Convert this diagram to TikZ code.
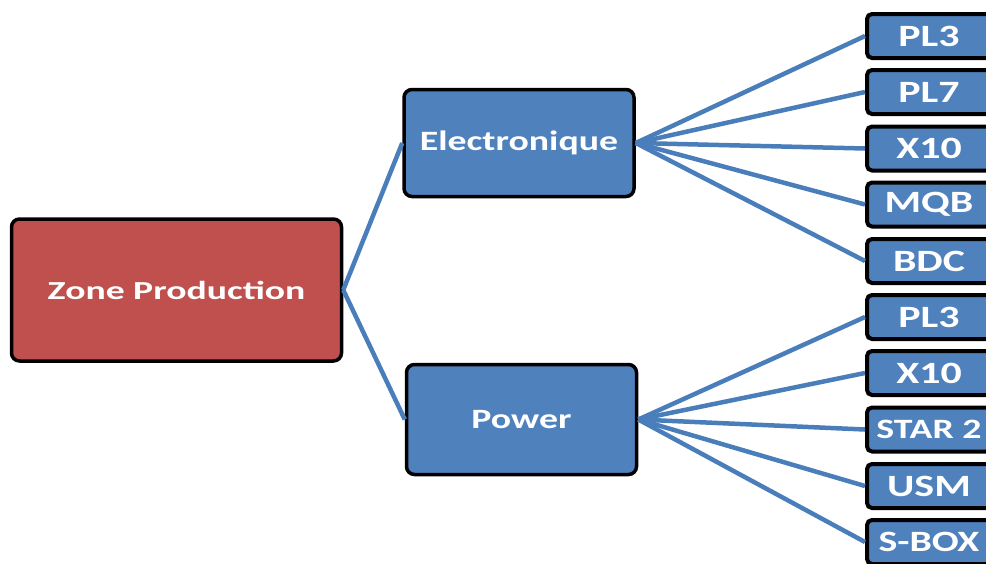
\documentclass[tikz,border=0pt]{standalone}
\usepackage{fontspec}
\setmainfont{Carlito}
\newfontfamily\boxfont[FakeStretch=1.35]{Carlito}
\newfontfamily\rootfont[FakeStretch=1.45]{Carlito}
\definecolor{myblue}{HTML}{4F81BD}
\definecolor{myred}{HTML}{C0504D}
\definecolor{linkblue}{HTML}{4A7EBB}
\begin{document}
\begin{tikzpicture}[x=1pt,y=-1pt]
\useasboundingbox (0,0) rectangle (986,563);
\tikzset{
  basebox/.style={draw=black, line width=3.5pt, rounded corners=8pt, text=white, inner sep=0pt},
  rootbox/.style={basebox, fill=myred, minimum width=330pt, minimum height=142pt, font=\rootfont\bfseries\fontsize{26}{26}\selectfont},
  midbox/.style={basebox, fill=myblue, minimum width=230pt, minimum height=107pt, font=\boxfont\bfseries\fontsize{28}{28}\selectfont},
  leafbox/.style={basebox, line width=4pt, rounded corners=5pt, fill=myblue, minimum width=124pt, minimum height=44pt, font=\boxfont\bfseries\fontsize{31}{31}\selectfont},
  link/.style={draw=linkblue, line width=4.5pt}
}
\node[rootbox] (root) at (176.5,290) {Zone Production};
\node[midbox] (elec) at (519,143) {Electronique};
\node[midbox, minimum height=110pt] (pow) at (521.5,419.5) {Power};

\node[leafbox] (e1) at (929,36) {PL3};
\node[leafbox] (e2) at (929,92) {PL7};
\node[leafbox] (e3) at (929,148.5) {X10};
\node[leafbox] (e4) at (929,204.5) {MQB};
\node[leafbox] (e5) at (929,261) {BDC};
\node[leafbox] (p1) at (929,317) {PL3};
\node[leafbox] (p2) at (929,373) {X10};
\node[leafbox] (p3) at (929,429.5) {\fontsize{28}{28}\selectfont STAR 2};
\node[leafbox] (p4) at (929,486) {USM};
\node[leafbox] (p5) at (929,542) {\fontsize{29.5}{29.5}\selectfont S-BOX};

\draw[link] (root.east) -- (elec.west);
\draw[link] (root.east) -- (pow.west);
\foreach \n in {e1,e2,e3,e4,e5} \draw[link] (elec.east) -- (\n.west);
\foreach \n in {p1,p2,p3,p4,p5} \draw[link] (pow.east) -- (\n.west);
\end{tikzpicture}
\end{document}
